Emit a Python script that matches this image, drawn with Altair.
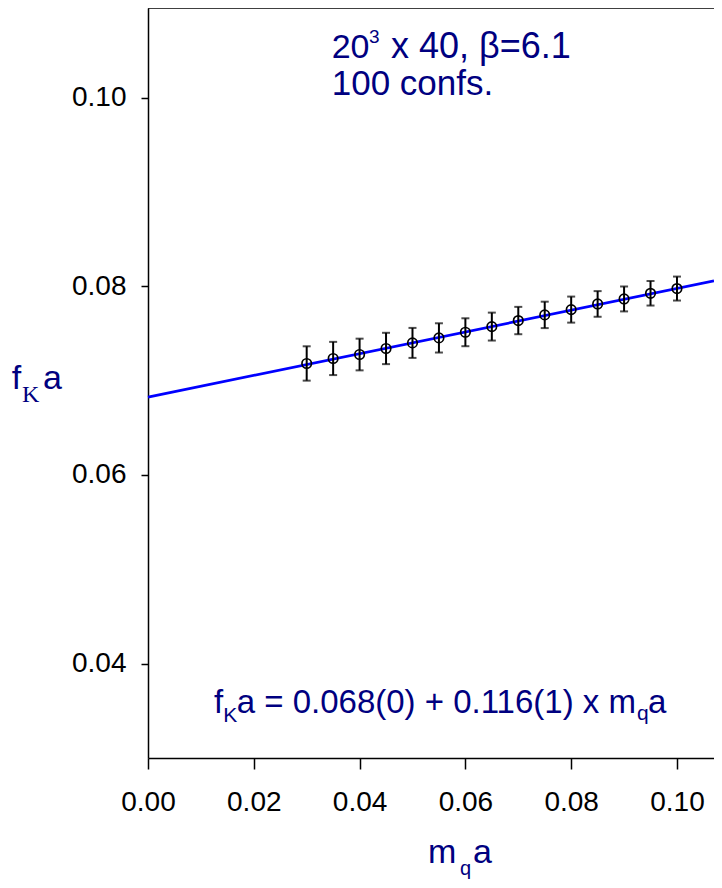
import altair as alt
import pandas as pd

# ---- data ----
mq = [0.030, 0.035, 0.040, 0.045, 0.050, 0.055, 0.060, 0.065,
      0.070, 0.075, 0.080, 0.085, 0.090, 0.095, 0.100]
fk = [0.07182, 0.07235, 0.07277, 0.07341, 0.07400, 0.07453, 0.07513, 0.07573,
      0.07637, 0.07697, 0.07753, 0.07813, 0.07866, 0.07926, 0.07976]
err = [0.00182, 0.00176, 0.00168, 0.00166, 0.00159, 0.00155, 0.00148, 0.00148,
       0.00145, 0.00140, 0.00138, 0.00136, 0.00132, 0.00130, 0.00127]
fit_x = [0.0, 0.1070]
fit_y = [0.06825, 0.08057]
x_ticks = [0.00, 0.02, 0.04, 0.06, 0.08, 0.10]
y_ticks = [0.04, 0.06, 0.08, 0.10]
x_domain = [0.0, 0.1070]
y_domain = [0.03, 0.1095]

NAVY = "#000080"
SANS = "Liberation Sans"
SERIF = "Liberation Serif"

W, H = 566, 750

pts = pd.DataFrame({"mq": mq, "fk": fk, "err": err})
pts["lo"] = pts["fk"] - pts["err"]
pts["hi"] = pts["fk"] + pts["err"]
fit = pd.DataFrame({"mq": fit_x, "fk": fit_y})

xs = alt.Scale(domain=x_domain, nice=False, zero=False)
ys = alt.Scale(domain=y_domain, nice=False, zero=False)

xaxis = alt.Axis(values=x_ticks, format=".2f", title=None, grid=False,
                 tickSize=11, tickWidth=1.5, tickColor="black",
                 domainWidth=1.5, domainColor="black",
                 labelFontSize=28, labelFont=SANS, labelColor="black",
                 labelPadding=19, labelFlush=False, labelOverlap=False)
yaxis = alt.Axis(values=y_ticks, format=".2f", title=None, grid=False,
                 tickSize=7, tickWidth=1.5, tickColor="black",
                 domainWidth=1.5, domainColor="black",
                 labelFontSize=28, labelFont=SANS, labelColor="black",
                 labelPadding=15, labelFlush=False, labelOverlap=False)

line = alt.Chart(fit).mark_line(color="#0000ff", strokeWidth=2.7).encode(
    x=alt.X("mq:Q", scale=xs, axis=xaxis),
    y=alt.Y("fk:Q", scale=ys, axis=yaxis),
)

bars = alt.Chart(pts).mark_rule(color="black", strokeWidth=2).encode(
    x=alt.X("mq:Q", scale=xs),
    y=alt.Y("lo:Q", scale=ys),
    y2="hi:Q",
)
cap_lo = alt.Chart(pts).mark_tick(color="black", orient="horizontal",
                                  size=8, thickness=2).encode(
    x=alt.X("mq:Q", scale=xs), y=alt.Y("lo:Q", scale=ys))
cap_hi = alt.Chart(pts).mark_tick(color="black", orient="horizontal",
                                  size=8, thickness=2).encode(
    x=alt.X("mq:Q", scale=xs), y=alt.Y("hi:Q", scale=ys))

points = alt.Chart(pts).mark_point(shape="circle", filled=False, color="black",
                                   size=90, strokeWidth=1.7, opacity=1).encode(
    x=alt.X("mq:Q", scale=xs), y=alt.Y("fk:Q", scale=ys))

top_border = alt.Chart(pd.DataFrame({"k": [0]})).mark_rule(
    color="black", strokeWidth=1.5).encode(
    x=alt.value(0), x2=alt.value(W), y=alt.value(0))


def txt(s, x, y, size, font=SANS, color=NAVY):
    return alt.Chart(pd.DataFrame({"t": [s]})).mark_text(
        align="left", baseline="alphabetic", fontSize=size, font=font,
        color=color).encode(x=alt.value(x), y=alt.value(y), text="t:N")


texts = [
    # annotation
    txt("20", 183.7, 50.3, 34),
    txt("3", 221, 34.7, 19),
    txt("x 40, \u03b2=6.1", 243, 50.3, 36),
    txt("100 confs.", 183.7, 87, 35),
    # fit equation
    txt("f", 66, 704.7, 33),
    txt("K", 75.3, 713.7, 21),
    txt("a = 0.068(0) + 0.116(1) x m", 88.7, 704.7, 33),
    txt("q", 489, 712, 21),
    txt("a", 500, 704.7, 33),
    # y title
    txt("f", -136.3, 381, 34),
    txt("K", -126, 394, 24, font=SERIF),
    txt("a", -105, 381, 34),
    # x title
    txt("m", 280, 855, 34),
    txt("q", 312, 867, 20),
    txt("a", 325, 855, 34),
]

chart = alt.layer(line, bars, cap_lo, cap_hi, points, top_border, *texts).properties(
    width=W, height=H,
    autosize=alt.AutoSizeParams(type="none"),
    padding={"left": 140, "top": 0, "right": 0, "bottom": 122},
    background="white",
).configure_view(stroke=None)

chart.save("out.html", embed_options={"renderer": "svg", "actions": False})
